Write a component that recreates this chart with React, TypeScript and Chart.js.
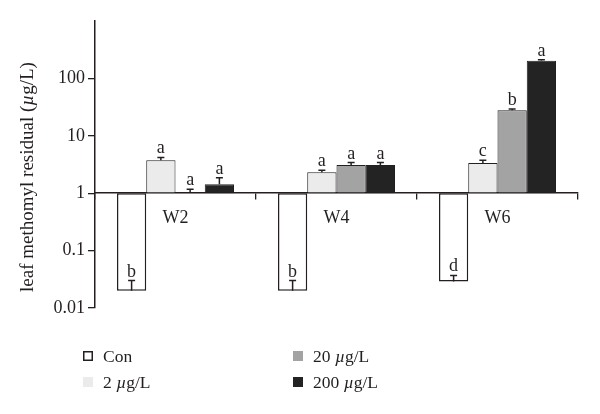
import { useEffect, useRef } from 'react';
import { Chart, registerables } from 'chart.js';

Chart.register(...registerables);

const categories = ['W2', 'W4', 'W6'];
const seriesNames = ['Con', '2 µg/L', '20 µg/L', '200 µg/L'];
const conValues = [0.02, 0.02, 0.029];
const conErrEnd = [0.03, 0.03, 0.037];
const conLetters = ['b', 'b', 'd'];
const low2Values = [3.75, 2.32, 3.37];
const low2ErrEnd = [4.2, 2.5, 3.75];
const low2Letters = ['a', 'a', 'c'];
const mid20Values = [1.04, 3.1, 27.8];
const mid20ErrEnd = [1.17, 3.42, 29.2];
const mid20Letters = ['a', 'a', 'b'];
const high200Values = [1.43, 3.1, 203];
const high200ErrEnd = [1.85, 3.42, 211];
const high200Letters = ['a', 'a', 'a'];
const yTickValues = [0.01, 0.1, 1, 10, 100];
const yTickLabels = ['0.01', '0.1', '1', '10', '100'];
const yTitle = 'leaf methomyl residual (µg/L)';

const seriesValues = [conValues, low2Values, mid20Values, high200Values];
const seriesErrEnd = [conErrEnd, low2ErrEnd, mid20ErrEnd, high200ErrEnd];
const seriesLetters = [conLetters, low2Letters, mid20Letters, high200Letters];
const fills = ['#ffffff', '#ebebeb', '#a3a3a3', '#232323'];

const FONT = "'Liberation Serif', 'DejaVu Serif', serif";
const INK = '#231f20';
const SIZE = 18;
const TITLE_SIZE = 19;
const LEGEND_SIZE = 17.5;

function drawMixed(ctx: CanvasRenderingContext2D, text: string, x: number, y: number, size: number) {
  let cx = x;
  const parts = text.split(/(µ)/);
  for (const p of parts) {
    if (!p) continue;
    ctx.font = (p === 'µ' ? 'italic ' : '') + size + 'px ' + FONT;
    ctx.fillText(p, cx, y);
    cx += ctx.measureText(p).width;
  }
  return cx - x;
}

function measureMixed(ctx: CanvasRenderingContext2D, text: string, size: number) {
  let w = 0;
  for (const p of text.split(/(µ)/)) {
    if (!p) continue;
    ctx.font = (p === 'µ' ? 'italic ' : '') + size + 'px ' + FONT;
    w += ctx.measureText(p).width;
  }
  return w;
}

const extrasPlugin = {
  id: 'extras',
  afterDatasetsDraw(chart: any) {
    const ctx: CanvasRenderingContext2D = chart.ctx;
    const y = chart.scales.y;
    ctx.save();
    ctx.strokeStyle = INK;
    ctx.fillStyle = INK;
    ctx.lineWidth = 1.5;
    ctx.textAlign = 'center';
    ctx.textBaseline = 'alphabetic';
    ctx.font = SIZE + 'px ' + FONT;
    seriesValues.forEach((vals, i) => {
      const meta = chart.getDatasetMeta(i);
      vals.forEach((v, j) => {
        const bar = meta.data[j];
        const x = bar.x;
        const y0 = y.getPixelForValue(v);
        const y1 = y.getPixelForValue(seriesErrEnd[i][j]);
        ctx.beginPath();
        ctx.moveTo(x, y0);
        ctx.lineTo(x, y1);
        ctx.moveTo(x - 3.5, y1);
        ctx.lineTo(x + 3.5, y1);
        ctx.stroke();
        ctx.fillText(seriesLetters[i][j], x, y1 - 4);
      });
    });
    ctx.restore();
  },
  afterDraw(chart: any) {
    const ctx: CanvasRenderingContext2D = chart.ctx;
    ctx.save();
    ctx.fillStyle = INK;
    ctx.translate(28, 177);
    ctx.rotate(-Math.PI / 2);
    ctx.textBaseline = 'middle';
    ctx.textAlign = 'left';
    const tw = measureMixed(ctx, yTitle, TITLE_SIZE);
    drawMixed(ctx, yTitle, -tw / 2, 0, TITLE_SIZE);
    ctx.restore();

    ctx.save();
    const pos = [
      [83, 356],
      [83, 382],
      [293, 356],
      [293, 382],
    ];
    seriesNames.forEach((name, i) => {
      const [lx, ly] = pos[i];
      ctx.fillStyle = fills[i];
      ctx.fillRect(lx, ly - 5, 10, 10);
      if (i === 0) {
        ctx.strokeStyle = INK;
        ctx.lineWidth = 1.5;
        ctx.strokeRect(lx + 0.75, ly - 4.25, 8.5, 8.5);
      }
      ctx.fillStyle = INK;
      ctx.textBaseline = 'middle';
      ctx.textAlign = 'left';
      drawMixed(ctx, name, lx + 20, ly + 1, LEGEND_SIZE);
    });
    ctx.restore();
  },
};

export default function App() {
  const ref = useRef<HTMLCanvasElement | null>(null);
  useEffect(() => {
    document.body.style.margin = '0';
    if (!ref.current) return;
    const chart = new Chart(ref.current, {
      type: 'bar',
      data: {
        labels: categories,
        datasets: seriesValues.map((vals, i) => ({
          label: seriesNames[i],
          data: vals.map((v) => [1, v]) as any,
          backgroundColor: fills[i],
          borderColor: INK,
          borderWidth: i === 0 ? 1.5 : 1,
          borderSkipped: false,
          barPercentage: 1,
          categoryPercentage: 0.727,
        })),
      },
      options: {
        animation: false,
        responsive: true,
        maintainAspectRatio: false,
        layout: { padding: { top: 21, right: 22, bottom: 106, left: 0 } },
        plugins: {
          legend: { display: false },
          tooltip: { enabled: false },
          title: { display: false },
        },
        scales: {
          x: {
            position: { y: 1 } as any,
            offset: true,
            grid: {
              offset: true,
              drawOnChartArea: false,
              drawTicks: true,
              tickLength: 6,
              color: INK,
              lineWidth: 1.3,
            },
            border: { color: INK, width: 1.5 },
            ticks: { color: INK, font: { family: FONT, size: SIZE }, padding: 8 },
            afterFit: (s: any) => {
              s.height = 0;
            },
          },
          y: {
            type: 'logarithmic',
            min: 0.01,
            max: 1000,
            afterBuildTicks: (s: any) => {
              s.ticks = yTickValues.map((v) => ({ value: v }));
            },
            ticks: {
              color: INK,
              font: { family: FONT, size: SIZE },
              padding: 3,
              autoSkip: false,
              callback: (_v: any, idx: number) => yTickLabels[idx],
            },
            grid: {
              drawOnChartArea: false,
              drawTicks: true,
              tickLength: 7,
              color: INK,
              lineWidth: 1.3,
            },
            border: { color: INK, width: 1.5 },
            afterFit: (s: any) => {
              s.width = 95;
            },
          },
        },
      },
      plugins: [extrasPlugin],
    });
    return () => chart.destroy();
  }, []);
  return (
    <div style={{ width: 600, height: 414, position: 'relative', background: '#fff' }}>
      <canvas ref={ref} />
    </div>
  );
}
